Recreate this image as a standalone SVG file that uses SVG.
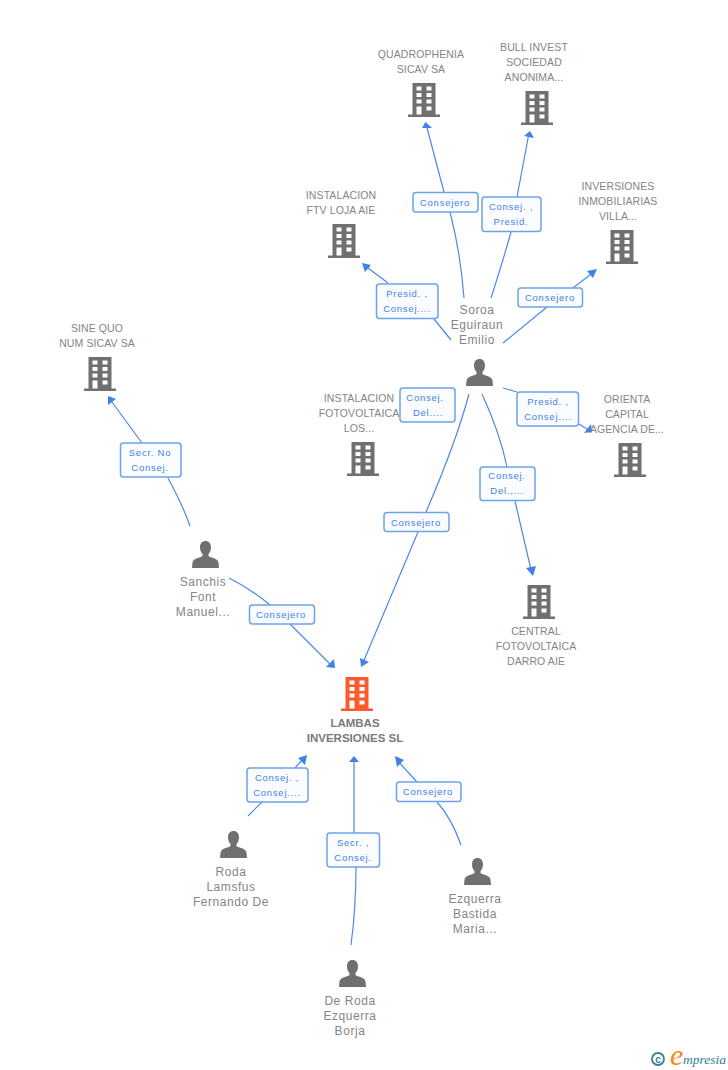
<svg xmlns="http://www.w3.org/2000/svg" width="728" height="1070" viewBox="0 0 728 1070">
<style>
text{font-family:"Liberation Sans",Arial,sans-serif}
.n{font-size:10.5px;letter-spacing:.1px;fill:#858585;text-anchor:middle}
.p{font-size:12px;letter-spacing:.55px;fill:#858585;text-anchor:middle}
.b{font-size:11.5px;font-weight:bold;fill:#7a7a7a;text-anchor:middle}
.l{font-size:9.5px;letter-spacing:.75px;fill:#3f82e6;text-anchor:middle}
.c{fill:none;stroke:#4a8ae6;stroke-width:1.2}
.r{fill:#fbfcff;stroke:#6da2ea;stroke-width:1.5}
.a{fill:#3f82e6}
</style>
<defs>
<symbol id="bld" viewBox="0 0 32 34" width="32" height="34" overflow="visible">
<path fill-rule="evenodd" d="M4.500 0H27.500V31.500H32V34H0V31.500H4.500ZM8.500 3.500V7.500H13.500V3.500ZM18.500 3.500V7.500H23.500V3.500ZM8.500 10V14H13.500V10ZM18.500 10V14H23.500V10ZM8.500 16.500V20.500H13.500V16.500ZM18.500 16.500V20.500H23.500V16.500ZM8.500 23.500V31.500H13.500V23.500ZM18.500 23.500V27.500H23.500V23.500Z"/>
</symbol>
<symbol id="per" viewBox="0 0 27 27" width="27" height="27" overflow="visible">
<path fill="#707070" d="M13.5 0C10 0 8 2.700 8 6.200C8 9 9 11.500 10.500 13V15C8 17 1.500 17 .5 21.500L0 27H27L26.500 21.500C25.500 17 19 17 16.500 15V13C18 11.500 19 9 19 6.200C19 2.700 17 0 13.500 0Z"/>
</symbol>
</defs>
<g id="connectors">
<path class="c" d="M464 298C461 260 456 235 450 212M444 192L426 124"/>
<path class="a" d="M425.500 122L432 128L422 128Z"/>
<path class="c" d="M491 298C500 270 506 250 511 232M517 197L529 133"/>
<path class="a" d="M530 131L534 138L524 136Z"/>
<path class="c" d="M451 340L434 319M388 283L364 265"/>
<path class="a" d="M362 263L371 265L365 272Z"/>
<path class="c" d="M503 343L547 307M573 288L595 271"/>
<path class="a" d="M597 269L593 278L587 271Z"/>
<path class="c" d="M503 388L517 392M579 424L590 431"/>
<path class="a" d="M592 432L584 433L591 424Z"/>
<path class="c" d="M482 394C494 420 502 443 507 467M515 501L532 574"/>
<path class="a" d="M533 576L526 568L536 566Z"/>
<path class="c" d="M469 394C458 435 442 475 426 512M418 532L362 665"/>
<path class="a" d="M361 667L360 658L369 662Z"/>
<path class="c" d="M229 578C245 586 258 595 270 605M290 624L332 666"/>
<path class="a" d="M335 668L326 667L334 659Z"/>
<path class="c" d="M190 526C184 508 176 493 168 478M142 443L109 398"/>
<path class="a" d="M108 396L116 399L108 405Z"/>
<path class="c" d="M248 816L262 802M295 768L304 758"/>
<path class="a" d="M307 755L305 765L298 758Z"/>
<path class="c" d="M351 945C355 915 356 890 356 867M354 833L354 759"/>
<path class="a" d="M354 756L359 762L349 762Z"/>
<path class="c" d="M461 845C455 828 447 813 437 802M417 782L396 759"/>
<path class="a" d="M395 756L404 760L397 767Z"/>
</g>
<g id="edge-labels">
<rect class="r" x="413" y="192.500" width="65" height="19.500" rx="3"/><text class="l" x="445" y="206">Consejero</text>
<rect class="r" x="482" y="197" width="59" height="34.500" rx="3"/><text class="l" x="511" y="210">Consej. ,</text><text class="l" x="511" y="225">Presid.</text>
<rect class="r" x="376.500" y="284" width="61.500" height="34.500" rx="3"/><text class="l" x="407" y="297">Presid. ,</text><text class="l" x="407" y="312">Consej....</text>
<rect class="r" x="518" y="288" width="64.500" height="19" rx="3"/><text class="l" x="550" y="301">Consejero</text>
<rect class="r" x="400" y="388" width="55" height="34" rx="3"/><text class="l" x="425" y="401">Consej.</text><text class="l" x="428" y="416">Del....</text>
<rect class="r" x="517" y="392" width="61.500" height="34" rx="3"/><text class="l" x="548" y="405">Presid. ,</text><text class="l" x="548" y="420">Consej....</text>
<rect class="r" x="480" y="467" width="55" height="33.500" rx="3"/><text class="l" x="507" y="479">Consej.</text><text class="l" x="507" y="494">Del.,...</text>
<rect class="r" x="384" y="512.500" width="65" height="19" rx="3"/><text class="l" x="416" y="526">Consejero</text>
<rect class="r" x="249.500" y="605" width="65" height="19" rx="3"/><text class="l" x="281" y="618">Consejero</text>
<rect class="r" x="120.500" y="443" width="60.500" height="34" rx="3"/><text class="l" x="150" y="456">Secr. No</text><text class="l" x="150" y="471">Consej.</text>
<rect class="r" x="247" y="768" width="61" height="34" rx="3"/><text class="l" x="277" y="781">Consej. ,</text><text class="l" x="277" y="796">Consej....</text>
<rect class="r" x="327" y="833" width="52.500" height="34" rx="3"/><text class="l" x="353" y="846">Secr. ,</text><text class="l" x="353" y="861">Consej.</text>
<rect class="r" x="396.500" y="782" width="64.500" height="19.500" rx="3"/><text class="l" x="428" y="795">Consejero</text>
</g>
<g id="quadrophenia"><use href="#bld" x="408" y="83" fill="#707070"/><text class="n" x="421" y="58">QUADROPHENIA</text><text class="n" x="421" y="73">SICAV SA</text></g>
<g id="bull"><use href="#bld" x="521" y="91" fill="#707070"/><text class="n" x="534" y="51">BULL INVEST</text><text class="n" x="534" y="66">SOCIEDAD</text><text class="n" x="534" y="81">ANONIMA...</text></g>
<g id="ftv-loja"><use href="#bld" x="328" y="224" fill="#707070"/><text class="n" x="341" y="199">INSTALACION</text><text class="n" x="341" y="214">FTV LOJA AIE</text></g>
<g id="inversiones"><use href="#bld" x="606" y="230" fill="#707070"/><text class="n" x="618" y="190">INVERSIONES</text><text class="n" x="618" y="205">INMOBILIARIAS</text><text class="n" x="618" y="220">VILLA...</text></g>
<g id="orienta"><use href="#bld" x="614" y="443" fill="#707070"/><text class="n" x="627" y="403">ORIENTA</text><text class="n" x="627" y="418">CAPITAL</text><text class="n" x="627" y="433">AGENCIA DE...</text></g>
<g id="instalacion"><use href="#bld" x="347" y="442" fill="#707070"/><text class="n" x="359" y="402">INSTALACION</text><text class="n" x="359" y="417">FOTOVOLTAICA</text><text class="n" x="359" y="432">LOS...</text></g>
<g id="central"><use href="#bld" x="523" y="585" fill="#707070"/><text class="n" x="536" y="635">CENTRAL</text><text class="n" x="536" y="650">FOTOVOLTAICA</text><text class="n" x="536" y="665">DARRO AIE</text></g>
<g id="sine-quo"><use href="#bld" x="84" y="357" fill="#707070"/><text class="n" x="97" y="332">SINE QUO</text><text class="n" x="97" y="347">NUM SICAV SA</text></g>
<g id="lambas"><use href="#bld" x="341" y="677" fill="#ff5a2d"/><text class="b" x="355" y="727">LAMBAS</text><text class="b" x="355" y="742">INVERSIONES SL</text></g>
<g id="soroa"><use href="#per" x="466" y="359"/><text class="p" x="477" y="314">Soroa</text><text class="p" x="477" y="329">Eguiraun</text><text class="p" x="477" y="344">Emilio</text></g>
<g id="sanchis"><use href="#per" x="192" y="541"/><text class="p" x="203" y="586">Sanchis</text><text class="p" x="203" y="601">Font</text><text class="p" x="203" y="616">Manuel...</text></g>
<g id="roda"><use href="#per" x="220" y="831"/><text class="p" x="231" y="876">Roda</text><text class="p" x="231" y="891">Lamsfus</text><text class="p" x="231" y="906">Fernando De</text></g>
<g id="ezquerra"><use href="#per" x="464" y="858"/><text class="p" x="475" y="903">Ezquerra</text><text class="p" x="475" y="918">Bastida</text><text class="p" x="475" y="933">Maria...</text></g>
<g id="de-roda"><use href="#per" x="339" y="960"/><text class="p" x="350" y="1005">De Roda</text><text class="p" x="350" y="1020">Ezquerra</text><text class="p" x="350" y="1035">Borja</text></g>
<g id="logo"><circle cx="658" cy="1059" r="6" fill="none" stroke="#3a7f96" stroke-width="1.800"/><text x="658" y="1062.500" font-size="10" font-weight="bold" fill="#3a7f96" text-anchor="middle">c</text><text x="670" y="1065" font-size="30" font-style="italic" fill="#f08a1d" style="font-family:'Liberation Serif',serif">e</text><text x="683" y="1064" font-size="13.500" font-style="italic" fill="#2f7d94" style="font-family:'Liberation Serif',serif">mpresia</text></g>
</svg>
